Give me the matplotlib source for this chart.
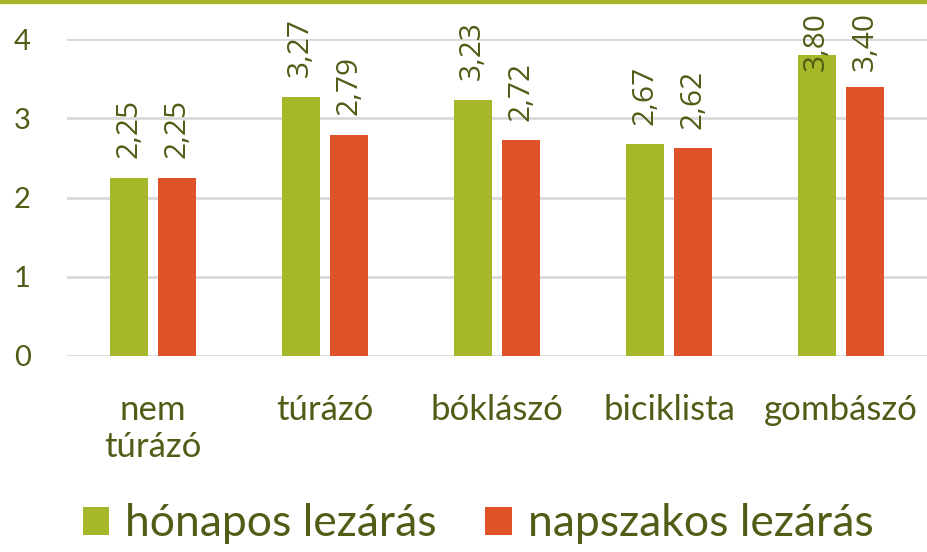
import matplotlib
matplotlib.use("Agg")
import matplotlib.pyplot as plt
import matplotlib.patches as mpatches
import numpy as np

plt.rcParams['font.family'] = ['Lato', 'DejaVu Sans']

categories = ["nem\ntúrázó", "túrázó", "bóklászó", "biciklista", "gombászó"]
honapos = [2.25, 3.27, 3.23, 2.67, 3.80]
napszakos = [2.25, 2.79, 2.72, 2.62, 3.40]
series_names = ["hónapos lezárás", "napszakos lezárás"]

green = "#a6b829"
orange = "#e05328"
text_col = "#4f5d16"

fig = plt.figure(figsize=(9.28, 5.52), dpi=100)
ax = fig.add_axes([67 / 928, 196 / 552, 860 / 928, 317 / 552])

# thin green band across the top
fig.patches.append(mpatches.Rectangle((0, 1 - 3 / 552), 1, 3 / 552, transform=fig.transFigure,
                                      color=green, zorder=10))

x = np.arange(len(categories))
w = 0.221
off = 0.142
b1 = ax.bar(x - off, honapos, w, color=green, label=series_names[0], zorder=3)
b2 = ax.bar(x + off, napszakos, w, color=orange, label=series_names[1], zorder=3)

# labels sit above the bars, but get pushed down when they would leave the chart
gap = 0.25       # data units between bar top and label
lab_len = 0.76   # approx label length in data units
top_lim = 4.34
for bars, vals in [(b1, honapos), (b2, napszakos)]:
    for rect, v in zip(bars, vals):
        cx = rect.get_x() + rect.get_width() / 2
        txt = f"{v:.2f}".replace(".", ",")
        kw = dict(rotation=90, ha="center", fontsize=21.5, family=["Open Sans", "DejaVu Sans"],
                  color=text_col, clip_on=False, zorder=5)
        if v + gap + lab_len > top_lim:
            ax.text(cx, top_lim, txt, va="top", **kw)
        else:
            ax.text(cx, v + gap, txt, va="bottom", **kw)

ax.set_xlim(-0.5, len(categories) - 0.5)
ax.set_ylim(0, 4)
ax.set_yticks([0, 1, 2, 3, 4])
ax.set_yticklabels(["0", "1", "2", "3", "4"])
ax.set_xticks(x)
ax.set_xticklabels(categories, linespacing=1.2)
ax.tick_params(axis="y", length=0, labelsize=21, colors=text_col, pad=32)
ax.tick_params(axis="x", length=0, labelsize=25, colors=text_col, pad=27)
for lab in ax.get_yticklabels():
    lab.set_horizontalalignment("center")
ax.grid(axis="y", color="#d9d9d9", linewidth=2, zorder=0)
for s in ax.spines.values():
    s.set_visible(False)

leg = fig.legend(handles=[b1, b2], loc="center", bbox_to_anchor=(0.515, 28 / 552),
                 ncol=2, frameon=False, fontsize=32, handlelength=0.6, handleheight=0.6,
                 handletextpad=0.35, columnspacing=1.1)
for t in leg.get_texts():
    t.set_color(text_col)

fig.savefig("out.png", dpi=100)
